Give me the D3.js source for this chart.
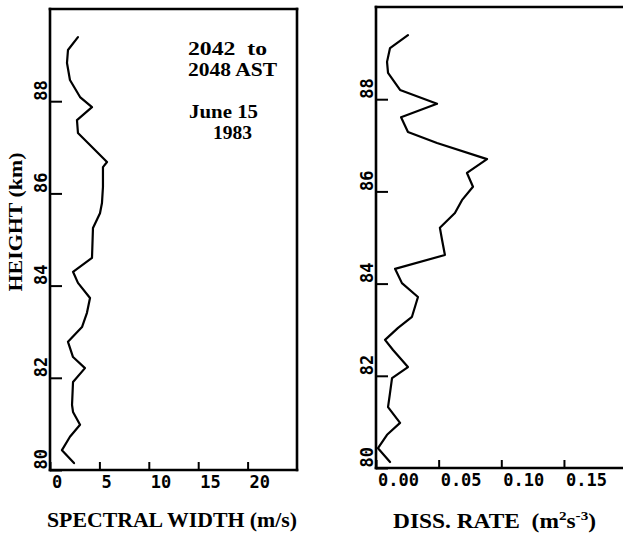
<!DOCTYPE html>
<html>
<head>
<meta charset="utf-8">
<script src="https://cdn.jsdelivr.net/npm/d3@7"></script>
<style>
html,body{margin:0;padding:0;background:#fff;}
svg{display:block;}
</style>
</head>
<body>
<svg id="chart" width="623" height="534"></svg>
<script>
// ---- data ----
const heightTicks = [80, 82, 84, 86, 88];
const widthTicks = [0, 5, 10, 15, 20];
const widthTickLabels = ["0", "5", "10", "15", "20"];
const dissTicks = [0, 0.05, 0.10, 0.15];
const dissTickLabels = ["0.00", "0.05", "0.10", "0.15"];

const widthHeights = [89.39, 89.11, 88.83, 88.46, 88.09, 87.87, 87.59, 87.31, 86.68, 86.57, 86.14, 85.79, 85.57, 85.25, 84.60, 84.30, 84.06, 83.73, 83.41, 83.10, 82.78, 82.45, 82.21, 81.91, 81.41, 81.26, 80.98, 80.72, 80.43, 80.15];
const widthValues  = [2.83, 1.82, 1.72, 2.02, 3.04, 4.25, 2.73, 2.83, 5.77, 5.36, 5.36, 5.26, 5.06, 4.35, 4.25, 2.33, 2.83, 4.05, 3.74, 3.24, 1.82, 2.33, 3.54, 2.33, 2.23, 2.33, 3.04, 2.02, 1.21, 2.43];

const dissHeights = [89.39, 89.11, 88.81, 88.57, 88.20, 87.90, 87.61, 87.29, 87.05, 86.70, 86.40, 86.10, 85.81, 85.53, 85.21, 84.95, 84.62, 84.32, 84.01, 83.71, 83.28, 83.04, 82.78, 82.56, 82.19, 81.95, 81.63, 81.32, 80.98, 80.72, 80.43, 80.13];
const dissValues  = [0.0255, 0.0112, 0.0088, 0.0096, 0.0192, 0.0487, 0.0200, 0.0255, 0.0487, 0.0886, 0.0726, 0.0774, 0.0686, 0.0630, 0.0510, 0.0527, 0.0550, 0.0152, 0.0207, 0.0335, 0.0287, 0.0176, 0.0072, 0.0136, 0.0255, 0.0128, 0.0112, 0.0096, 0.0192, 0.0088, 0.0016, 0.0112];

const annotation = ["2042  to", "2048 AST", "June 15", "1983"];

// ---- layout ----
const svg = d3.select("#chart");
const monoFont = "'DejaVu Sans Mono', monospace";
const serifFont = "'Liberation Serif', 'DejaVu Serif', serif";

const yL = d3.scaleLinear().domain([80, 90]).range([470, 9]);
const xL = d3.scaleLinear().domain([0, 25]).range([50, 297]);
const yR = d3.scaleLinear().domain([80, 90]).range([468, 7]);
const xR = d3.scaleLinear().domain([0, 0.2]).range([376, 626.6]);

function drawPanel(x, y, xt, xtl, hs, vs, closedRight) {
  const g = svg.append("g");
  const x0 = x.range()[0], x1 = x.range()[1];
  const yb = y.range()[0], yt = y.range()[1];
  // frame
  const frame = g.append("g").attr("fill", "none").attr("stroke", "#000").attr("stroke-width", 2.6).attr("stroke-linecap", "square");
  frame.append("line").attr("x1", x0).attr("x2", x0).attr("y1", yt).attr("y2", yb);
  frame.append("line").attr("x1", x0).attr("x2", x1).attr("y1", yb).attr("y2", yb);
  frame.append("line").attr("x1", x0).attr("x2", x1).attr("y1", yt).attr("y2", yt);
  if (closedRight) frame.append("line").attr("x1", x1).attr("x2", x1).attr("y1", yt).attr("y2", yb);

  // x axis
  const xa = g.append("g").attr("transform", `translate(0,${yb})`)
    .call(d3.axisBottom(x).tickValues(xt).tickSizeInner(-8).tickSizeOuter(0).tickFormat((d, i) => xtl[i]));
  xa.select(".domain").remove();
  xa.selectAll(".tick line").attr("stroke", "#000").attr("stroke-width", 2);
  xa.selectAll(".tick text")
    .attr("y", 18).attr("dy", null).attr("x", 1.5)
    .attr("text-anchor", "start")
    .attr("fill", "#000")
    .style("font-family", monoFont).style("font-size", "17px").style("font-weight", "bold");

  // y axis
  const ya = g.append("g").attr("transform", `translate(${x0},0)`)
    .call(d3.axisLeft(y).tickValues(heightTicks).tickSizeInner(-12).tickSizeOuter(0).tickFormat(d3.format("d")));
  ya.select(".domain").remove();
  ya.selectAll(".tick line").attr("stroke", "#000").attr("stroke-width", 2);
  ya.selectAll(".tick text")
    .attr("transform", "rotate(-90)")
    .attr("x", 1).attr("y", -3.5).attr("dy", null)
    .attr("text-anchor", "start")
    .attr("fill", "#000")
    .style("font-family", monoFont).style("font-size", "17px").style("font-weight", "bold");

  // curve
  const pts = hs.map((h, i) => [vs[i], h]);
  g.append("path")
    .datum(pts)
    .attr("fill", "none").attr("stroke", "#000").attr("stroke-width", 2.2)
    .attr("stroke-linejoin", "round").attr("stroke-linecap", "round")
    .attr("d", d3.line().x(d => x(d[0])).y(d => y(d[1])));
  return g;
}

drawPanel(xL, yL, widthTicks, widthTickLabels, widthHeights, widthValues, true);
drawPanel(xR, yR, dissTicks, dissTickLabels, dissHeights, dissValues, false);

// titles
svg.append("text")
  .attr("transform", "translate(22,222) rotate(-90)")
  .attr("text-anchor", "middle")
  .attr("textLength", 139).attr("lengthAdjust", "spacingAndGlyphs")
  .style("font-family", serifFont).style("font-size", "19px").style("font-weight", "bold")
  .text("HEIGHT (km)");

svg.append("text")
  .attr("x", 47).attr("y", 527)
  .attr("textLength", 250).attr("lengthAdjust", "spacingAndGlyphs")
  .style("font-family", serifFont).style("font-size", "20px").style("font-weight", "bold")
  .text("SPECTRAL WIDTH (m/s)");

const diss = svg.append("g").attr("transform", "translate(393,528) scale(1.17,1)")
  .append("text")
  .attr("x", 0).attr("y", 0)
  .style("white-space", "pre")
  .style("font-family", serifFont).style("font-size", "20px").style("font-weight", "bold");
diss.append("tspan").text("DISS. RATE  (m");
diss.append("tspan").attr("dy", -8).style("font-size", "13px").text("2");
diss.append("tspan").attr("dy", 8).text("s");
diss.append("tspan").attr("dy", -8).style("font-size", "13px").text("-3");
diss.append("tspan").attr("dy", 8).text(")");

// annotation
const annPos = [[188, 55, 79], [188, 76, 89], [189, 118, 69], [213, 139, 39]];
annotation.forEach((t, i) => {
  svg.append("text")
    .attr("x", annPos[i][0]).attr("y", annPos[i][1])
    .attr("textLength", annPos[i][2]).attr("lengthAdjust", "spacingAndGlyphs")
    .style("white-space", "pre")
    .style("font-family", serifFont).style("font-size", "18px").style("font-weight", "bold")
    .text(t);
});
</script>
</body>
</html>
